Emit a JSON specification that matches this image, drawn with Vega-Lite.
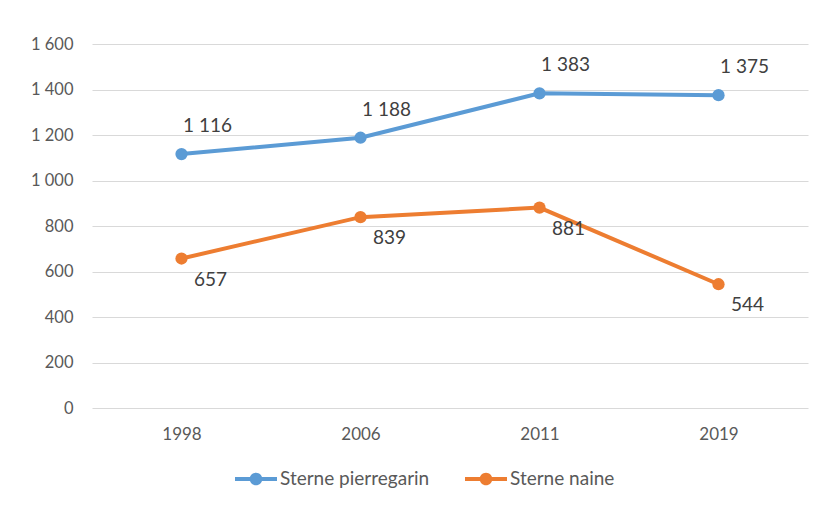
{
  "$schema": "https://vega.github.io/schema/vega-lite/v6.json",
  "width": 716,
  "height": 364,
  "autosize": {"type": "none"},
  "padding": {"left": 92, "top": 44, "right": 16, "bottom": 104},
  "background": "white",
  "config": {
    "view": {"stroke": null},
    "font": "Lato",
    "locale": {"number": {"decimal": ",", "thousands": "\u00a0", "grouping": [3], "currency": ["", " €"]}}
  },
  "data": {
    "values": [
      {"series": "Sterne pierregarin", "year": "1998", "value": 1116},
      {"series": "Sterne pierregarin", "year": "2006", "value": 1188},
      {"series": "Sterne pierregarin", "year": "2011", "value": 1383},
      {"series": "Sterne pierregarin", "year": "2019", "value": 1375},
      {"series": "Sterne naine", "year": "1998", "value": 657},
      {"series": "Sterne naine", "year": "2006", "value": 839},
      {"series": "Sterne naine", "year": "2011", "value": 881},
      {"series": "Sterne naine", "year": "2019", "value": 544}
    ]
  },
  "encoding": {
    "x": {
      "field": "year", "type": "ordinal",
      "scale": {"type": "point", "padding": 0.5},
      "axis": {"title": null, "labelAngle": 0, "domain": false, "ticks": false, "grid": false,
               "labelFont": "Lato", "labelFontSize": 17, "labelColor": "#595959", "labelPadding": 18}
    },
    "y": {
      "field": "value", "type": "quantitative",
      "scale": {"domain": [0, 1600]},
      "axis": {"title": null, "values": [0, 200, 400, 600, 800, 1000, 1200, 1400, 1600], "format": ",d",
               "domain": false, "ticks": false, "gridColor": "#D9D9D9", "gridWidth": 1,
               "labelFont": "Lato", "labelFontSize": 16.5, "labelColor": "#595959", "labelPadding": 19}
    },
    "color": {
      "field": "series", "type": "nominal",
      "scale": {"domain": ["Sterne pierregarin", "Sterne naine"], "range": ["#5B9BD5", "#ED7D31"]},
      "legend": {
        "title": null, "orient": "none", "direction": "horizontal",
        "legendX": 143, "legendY": 414,
        "symbolType": "M-1,-0.095H-0.28V0.095H-1Z M0.28,-0.095H1V0.095H0.28Z M0.3,0A0.3,0.3 0 1,1 -0.3,0A0.3,0.3 0 1,1 0.3,0Z",
        "symbolSize": 1764, "symbolStrokeWidth": 0,
        "labelFont": "Lato", "labelFontSize": 19, "labelColor": "#595959", "labelOffset": 3,
        "columnPadding": 35,
        "encode": {"symbols": {"update": {"fill": {"scale": "color", "field": "value"}, "stroke": {"value": "transparent"}, "opacity": {"value": 1}}}}
      }
    }
  },
  "layer": [
    {"mark": {"type": "line", "strokeWidth": 4}},
    {"mark": {"type": "point", "filled": true, "size": 150, "opacity": 1}},
    {
      "transform": [{"filter": "datum.series === 'Sterne pierregarin'"}],
      "mark": {"type": "text", "dx": 26, "dy": -28, "fontSize": 19, "font": "Lato"},
      "encoding": {"text": {"field": "value", "format": ",d"}, "color": {"value": "#404040"}}
    },
    {
      "transform": [{"filter": "datum.series === 'Sterne naine'"}],
      "mark": {"type": "text", "dx": 29, "dy": 21, "fontSize": 19, "font": "Lato"},
      "encoding": {"text": {"field": "value", "format": ",d"}, "color": {"value": "#404040"}}
    }
  ]
}
